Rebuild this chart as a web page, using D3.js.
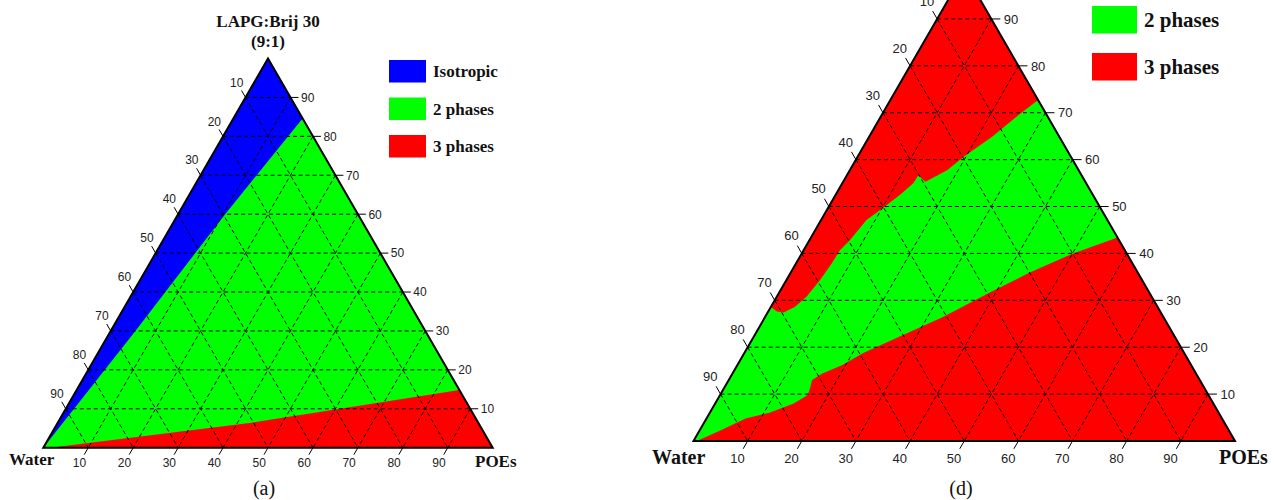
<!DOCTYPE html>
<html>
<head>
<meta charset="utf-8">
<script src="https://cdnjs.cloudflare.com/ajax/libs/d3/7.8.5/d3.min.js"></script>
<style>
body { margin: 0; background: #fff; }
svg { display: block; }
.grid { fill: none; stroke: #000; stroke-width: 1; stroke-dasharray: 4,3; }
.frame { fill: none; stroke: #000; stroke-width: 2; stroke-linejoin: miter; }
.tick line { stroke: #000; stroke-width: 1; }
.tick text { font-family: "Liberation Sans", Arial, sans-serif; fill: #222; }
.name { font-family: "Liberation Serif", "Times New Roman", serif; font-weight: bold; fill: #111; }
.caption { font-family: "Liberation Serif", "Times New Roman", serif; fill: #111; }
</style>
</head>
<body>
<svg class="chart" width="1274" height="500"></svg>
<script>
// every point is [LAPG:Brij 30, Water, POEs] in %
var ticks = [10, 20, 30, 40, 50, 60, 70, 80, 90];

// panel (a)
var isotropicA = [[100, 0, 0], [84.6, 0, 15.4], [60.2, 29.3, 10.5], [30, 64.5, 5.5], [0, 100, 0]];
var threePhaseA = [[0, 98.5, 1.5], [6.5, 50, 43.5], [14.8, 0, 85.2], [0, 0, 100]];
var legendA = ["Isotropic", "2 phases", "3 phases"];
var legendColorsA = ["#0000ff", "#00ff00", "#ff0000"];

// panel (d): edges of the 2 phases band
var upperEdgeD = [[72.7, 0, 27.3], [69.9, 4.6, 25.5], [64.9, 12.4, 22.7], [60.6, 19.8, 19.6],
	[57.8, 24.2, 18.0], [55.3, 29.5, 15.2], [56.6, 30.2, 13.2], [54.9, 32.0, 13.1],
	[52.5, 35.6, 11.9], [49.8, 40.0, 10.2], [47.1, 44.5, 8.4], [42.9, 49.6, 7.5],
	[40.7, 52.6, 6.7], [37.9, 55.5, 6.6], [34.3, 59.5, 6.2], [30.8, 63.7, 5.5],
	[28.6, 67.0, 4.4], [27.4, 69.7, 2.9], [27.6, 70.8, 1.6], [28.6, 71.4, 0]];
var lowerEdgeD = [[43.4, 0, 56.6], [40.0, 9.9, 50.1], [35.8, 20.2, 44.0], [31.5, 29.8, 38.7],
	[26.5, 40.6, 32.9], [22.6, 50.0, 27.4], [18.7, 59.4, 21.9], [16.2, 64.4, 19.4],
	[14.4, 69.0, 16.6], [13.0, 71.6, 15.4], [11.2, 72.9, 15.9], [9.8, 74.0, 16.2],
	[8.0, 77.5, 14.5], [6.0, 83.0, 11.0], [4.8, 88.0, 7.2], [2.3, 93.8, 3.9], [0, 99.4, 0.6]];
var legendD = ["2 phases", "3 phases"];
var legendColorsD = ["#00ff00", "#ff0000"];

var svg = d3.select(".chart");

// draw one ternary diagram
function make_panel(cfg) {
	var g = svg.append("g");
	var side = cfg.right - cfg.left;
	var xs = d3.scaleLinear().domain([0, 100]).range([cfg.left, cfg.right]);
	var ys = d3.scaleLinear().domain([0, 100]).range([cfg.base, cfg.base - side * Math.sqrt(3) / 2]);
	var px = function(d) { return xs(d[2] + d[0] / 2); };
	var py = function(d) { return ys(d[0]); };
	var line = d3.line().x(px).y(py);
	var corners = [[100, 0, 0], [0, 100, 0], [0, 0, 100]];

	// background phase, then the regions on top
	g.append("path").attr("d", line(corners) + "Z").attr("fill", cfg.fill);
	g.selectAll(".region")
		.data(cfg.regions)
	.enter().append("path")
		.attr("class", "region")
		.attr("d", function(r) { return line(r.points) + "Z"; })
		.attr("fill", function(r) { return r.color; });

	// dashed grid in the three directions
	var segs = [];
	ticks.forEach(function(v) {
		segs.push([[v, 100 - v, 0], [v, 0, 100 - v]]);
		segs.push([[100 - v, v, 0], [0, v, 100 - v]]);
		segs.push([[100 - v, 0, v], [0, 100 - v, v]]);
	});
	g.selectAll(".grid")
		.data(segs)
	.enter().append("path")
		.attr("class", "grid")
		.attr("d", line);

	g.append("path").attr("class", "frame").attr("d", line(corners) + "Z");

	// ticks: right edge (LAPG), left edge (Water), bottom (POEs)
	var sx = -0.5, sy = Math.sqrt(3) / 2;
	var right = g.selectAll(".tr").data(ticks).enter().append("g").attr("class", "tick");
	right.append("line")
		.attr("x1", function(v) { return px([v, 0, 100 - v]); })
		.attr("x2", function(v) { return px([v, 0, 100 - v]) + cfg.tick; })
		.attr("y1", function(v) { return py([v, 0, 100 - v]); })
		.attr("y2", function(v) { return py([v, 0, 100 - v]); });
	right.append("text")
		.attr("x", function(v) { return px([v, 0, 100 - v]) + cfg.rlab; })
		.attr("y", function(v) { return py([v, 0, 100 - v]); })
		.attr("dy", "0.36em")
		.style("font-size", cfg.tickFont + "px")
		.text(function(v) { return v; });

	var left = g.selectAll(".tl").data(ticks).enter().append("g").attr("class", "tick");
	left.append("line")
		.attr("x1", function(v) { return px([100 - v, v, 0]); })
		.attr("x2", function(v) { return px([100 - v, v, 0]) + sx * cfg.tick; })
		.attr("y1", function(v) { return py([100 - v, v, 0]); })
		.attr("y2", function(v) { return py([100 - v, v, 0]) - sy * cfg.tick; });
	left.append("text")
		.attr("x", function(v) { return px([100 - v, v, 0]) + sx * cfg.lab; })
		.attr("y", function(v) { return py([100 - v, v, 0]) - sy * cfg.lab; })
		.attr("dy", "0.36em")
		.attr("text-anchor", "middle")
		.style("font-size", cfg.tickFont + "px")
		.text(function(v) { return v; });

	var bottom = g.selectAll(".tb").data(ticks).enter().append("g").attr("class", "tick");
	bottom.append("line")
		.attr("x1", function(v) { return px([0, 100 - v, v]); })
		.attr("x2", function(v) { return px([0, 100 - v, v]) + sx * cfg.tick; })
		.attr("y1", function(v) { return py([0, 100 - v, v]); })
		.attr("y2", function(v) { return py([0, 100 - v, v]) + sy * cfg.tick; });
	bottom.append("text")
		.attr("x", function(v) { return px([0, 100 - v, v]) + sx * cfg.lab; })
		.attr("y", function(v) { return py([0, 100 - v, v]) + sy * cfg.lab; })
		.attr("dy", "0.36em")
		.attr("text-anchor", "middle")
		.style("font-size", cfg.tickFont + "px")
		.text(function(v) { return v; });

	// vertex names
	g.append("text").attr("class", "name").attr("x", cfg.waterX).attr("y", cfg.nameY)
		.style("font-size", cfg.nameFont + "px").text("Water");
	g.append("text").attr("class", "name").attr("x", cfg.poesX).attr("y", cfg.nameY + cfg.poesDy)
		.style("font-size", cfg.nameFont + "px").text("POEs");
	g.selectAll(".top")
		.data(cfg.title)
	.enter().append("text")
		.attr("class", "name")
		.attr("x", xs(50))
		.attr("y", function(t, i) { return cfg.titleY + i * 20; })
		.attr("text-anchor", "middle")
		.style("font-size", cfg.nameFont + "px")
		.text(function(t) { return t; });

	// legend
	var leg = g.selectAll(".leg")
		.data(cfg.legend)
	.enter().append("g")
		.attr("transform", function(t, i) { return "translate(" + cfg.legX + "," + (cfg.legY + i * cfg.legStep) + ")"; });
	leg.append("rect")
		.attr("width", cfg.boxW)
		.attr("height", cfg.boxH)
		.attr("fill", function(t, i) { return cfg.legendColors[i]; });
	leg.append("text")
		.attr("class", "name")
		.attr("x", cfg.boxW + 7)
		.attr("y", cfg.boxH / 2 + cfg.legDy)
		.style("font-size", cfg.legFont + "px")
		.text(function(t) { return t; });

	g.append("text").attr("class", "caption")
		.attr("x", cfg.capX).attr("y", 495)
		.attr("text-anchor", "middle")
		.style("font-size", "20px")
		.text(cfg.caption);
}

make_panel({
	left: 43.3, right: 492.7, base: 447.7, fill: "#00ff00",
	regions: [{points: isotropicA, color: "#0000ff"}, {points: threePhaseA, color: "#ff0000"}],
	tick: 8, lab: 17.5, rlab: 10.5, tickFont: 12,
	nameFont: 17, waterX: 9, poesX: 475, nameY: 465, poesDy: 2,
	title: ["LAPG:Brij 30", "(9:1)"], titleY: 27,
	legend: legendA, legendColors: legendColorsA,
	legX: 389, legY: 60, legStep: 37.5, boxW: 37, boxH: 22.5, legDy: 6, legFont: 17,
	capX: 264, caption: "(a)"
});

make_panel({
	left: 693.5, right: 1235, base: 441, fill: "#ff0000",
	regions: [{points: upperEdgeD.concat([[0, 100, 0]], lowerEdgeD.slice().reverse()), color: "#00ff00"}],
	tick: 9, lab: 20.5, rlab: 12.5, tickFont: 13,
	nameFont: 20, waterX: 652, poesX: 1219, nameY: 464, poesDy: 0,
	title: [], titleY: -60,
	legend: legendD, legendColors: legendColorsD,
	legX: 1092, legY: 6, legStep: 47, boxW: 45, boxH: 27.5, legDy: 7, legFont: 21,
	capX: 961, caption: "(d)"
});
</script>
</body>
</html>
